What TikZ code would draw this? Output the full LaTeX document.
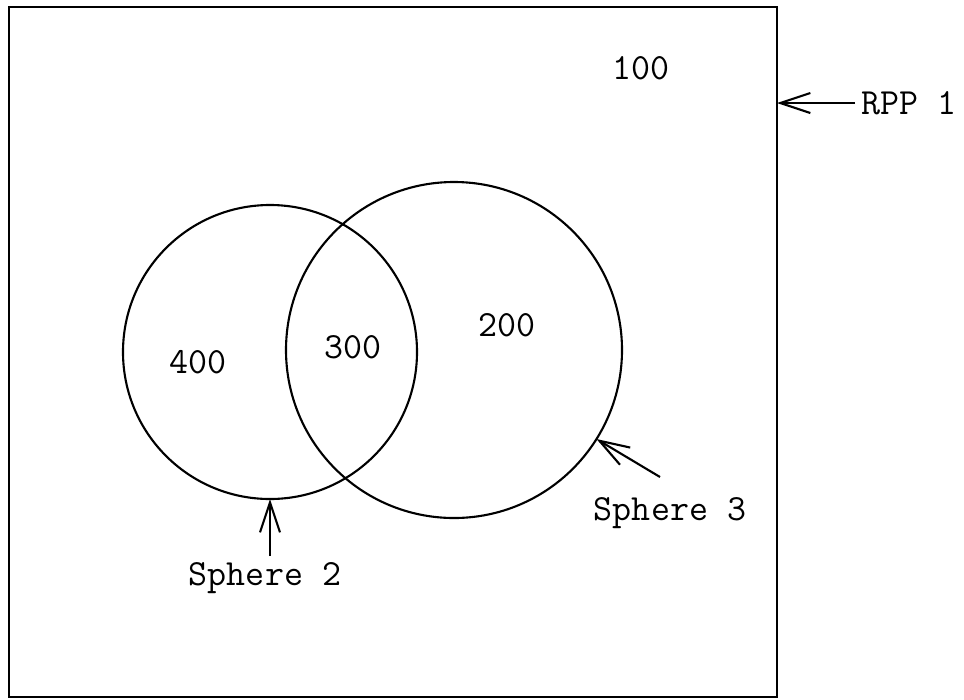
\documentclass[tikz,border=0pt]{standalone}
\usetikzlibrary{arrows.meta}
\usetikzlibrary{calc}

\tikzset{
    label/.style={font=\fontsize{21}{24}\selectfont\ttfamily},
    sphere/.style={circle,draw,line width=1.2pt,inner sep=0pt,outer sep=0pt},
    barb/.style={line width=1.2pt,-{Straight Barb[length=6mm,width=4mm,line width=1.2pt]}}
}

\begin{document}
\begin{tikzpicture}[x=0.2mm,y=-0.2mm]
        \useasboundingbox (0,0) rectangle (964,699);
        \draw[line width=1.2pt] (9,7) rectangle (777,697);
        \coordinate (rpp) at (777,103);
        % spheres
        \node[sphere,minimum size=58.8mm] (s2) at (270,352) {};
        \node[sphere,minimum size=67.2mm] (s3) at (454,350) {};
        % region numbers
        \node[label] (n100) at (641,68) {100};
        \node[label] (n400) at (198,362) {400};
        \node[label] (n300) at (353,347) {300};
        \node[label] (n200) at (507,325) {200};
        % labels
        \node[label,anchor=west] (lrpp) at (855,103) {RPP 1};
        \node[label] (l2) at (265,578) {Sphere 2};
        \node[label] (l3) at (670,513) {Sphere 3};
        \coordinate (t3) at (660,477);
        % arrows
        \draw[barb] (lrpp.west) -- (rpp);
        \draw[barb] (l2.north -| s2.south) -- (s2.south);
        \draw[barb] (t3) -- (s3.-32);
    \end{tikzpicture}
\end{document}
